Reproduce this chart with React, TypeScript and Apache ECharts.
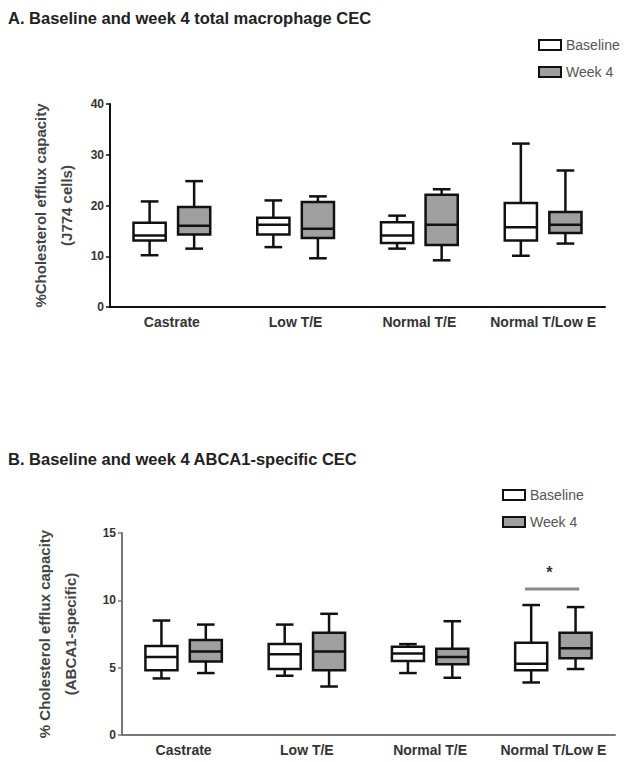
import React, { useEffect, useRef } from "react";
import * as echarts from "echarts";

const categories = ["Castrate", "Low T/E", "Normal T/E", "Normal T/Low E"];
const seriesNames = ["Baseline", "Week 4"];

// five-number summaries [min, Q1, median, Q3, max]
const totalBaseline = [
  [10.2, 13.1, 14.1, 16.6, 20.8],
  [11.8, 14.3, 16.2, 17.6, 21.0],
  [11.5, 12.6, 14.1, 16.7, 18.0],
  [10.1, 13.1, 15.7, 20.5, 32.2],
];
const totalWeek4 = [
  [11.5, 14.3, 16.0, 19.7, 24.8],
  [9.6, 13.6, 15.4, 20.7, 21.8],
  [9.2, 12.2, 16.2, 22.1, 23.2],
  [12.5, 14.6, 16.2, 18.7, 26.9],
];
const abcaBaseline = [
  [4.2, 4.8, 5.8, 6.6, 8.5],
  [4.4, 4.9, 6.0, 6.75, 8.2],
  [4.6, 5.5, 6.05, 6.55, 6.75],
  [3.9, 4.8, 5.3, 6.85, 9.65],
];
const abcaWeek4 = [
  [4.6, 5.45, 6.2, 7.05, 8.2],
  [3.6, 4.8, 6.2, 7.6, 9.0],
  [4.25, 5.25, 5.8, 6.4, 8.45],
  [4.9, 5.7, 6.45, 7.6, 9.5],
];
const totalTicks = { min: 0, max: 40, interval: 10 };
const abcaTicks = { min: 0, max: 15, interval: 5 };
// significance bracket in panel B
const sigCategoryIndex = 3;
const sigLevel = 10.85;
const sigStarLevel = 12.1;

const FONT = "'Liberation Sans', Arial, Helvetica, sans-serif";

function toData(rows: number[][]) {
  return rows.map((r, i) => [i, ...r]);
}

function boxRender(offsetFrac: number, fill: string) {
  return (params: any, api: any) => {
    const cat = api.value(0);
    const band = api.size([1, 0])[0];
    const cx = api.coord([cat, 0])[0] + offsetFrac * band;
    const w = band * 0.26;
    const cap = w * 0.55;
    const y = (k: number) => api.coord([cat, api.value(k)])[1];
    const yMin = y(1), yQ1 = y(2), yMed = y(3), yQ3 = y(4), yMax = y(5);
    const ls = { stroke: "#111", lineWidth: 2.5 };
    return {
      type: "group",
      children: [
        { type: "line", shape: { x1: cx, y1: yMax, x2: cx, y2: yQ3 }, style: ls },
        { type: "line", shape: { x1: cx, y1: yQ1, x2: cx, y2: yMin }, style: ls },
        { type: "line", shape: { x1: cx - cap / 2, y1: yMax, x2: cx + cap / 2, y2: yMax }, style: ls },
        { type: "line", shape: { x1: cx - cap / 2, y1: yMin, x2: cx + cap / 2, y2: yMin }, style: ls },
        {
          type: "rect",
          shape: { x: cx - w / 2, y: yQ3, width: w, height: yQ1 - yQ3 },
          style: { fill, stroke: "#111", lineWidth: 2.5 },
        },
        { type: "line", shape: { x1: cx - w / 2, y1: yMed, x2: cx + w / 2, y2: yMed }, style: ls },
      ],
    };
  };
}

const BASE_FILL = "#ffffff";
const WEEK_FILL = "#9f9f9f";

function boxSeries(name: string, rows: number[][], idx: number, offset: number, fill: string) {
  return {
    type: "custom",
    name,
    xAxisIndex: idx,
    yAxisIndex: idx,
    data: toData(rows),
    encode: { x: 0, y: [1, 2, 3, 4, 5] },
    itemStyle: { color: fill, borderColor: "#111", borderWidth: 2 },
    renderItem: boxRender(offset, fill),
    silent: true,
  };
}

function makeXAxis(gridIndex: number, lineColor: string) {
  return {
    type: "category",
    gridIndex,
    data: categories,
    boundaryGap: true,
    axisLine: { lineStyle: { color: lineColor, width: 2 } },
    axisTick: { alignWithLabel: true, length: 4, interval: 0, lineStyle: { color: lineColor, width: 1.5 } },
    axisLabel: {
      color: "#333",
      fontSize: 14,
      fontWeight: "bold",
      fontFamily: FONT,
      margin: 8,
      interval: 0,
      hideOverlap: false,
    },
    splitLine: { show: false },
  };
}

function makeYAxis(gridIndex: number, ticks: any, name: string, nameGap: number, lineColor: string) {
  return {
    type: "value",
    gridIndex,
    min: ticks.min,
    max: ticks.max,
    interval: ticks.interval,
    name,
    nameLocation: "middle",
    nameRotate: 90,
    nameGap,
    nameTextStyle: { color: "#444", fontSize: 15, fontWeight: "bold", fontFamily: FONT, lineHeight: 26 },
    axisLine: { show: true, lineStyle: { color: lineColor, width: 2 } },
    axisTick: { show: true, length: 4, lineStyle: { color: lineColor, width: 1.5 } },
    axisLabel: { color: "#333", fontSize: 12, fontWeight: "bold", fontFamily: FONT, margin: 6 },
    splitLine: { show: false },
  };
}

const legendData = [
  { name: seriesNames[0], itemStyle: { color: BASE_FILL, borderColor: "#111", borderWidth: 2 } },
  { name: seriesNames[1], itemStyle: { color: WEEK_FILL, borderColor: "#111", borderWidth: 2 } },
];

function makeLegend(left: number, top: number) {
  return {
    orient: "vertical",
    left,
    top,
    padding: 0,
    itemWidth: 22,
    itemHeight: 10,
    itemGap: 13,
    icon: "rect",
    selectedMode: false,
    data: legendData,
    textStyle: { color: "#555", fontSize: 14, fontFamily: FONT },
  };
}

export default function App() {
  const ref = useRef<HTMLDivElement>(null);
  useEffect(() => {
    if (!ref.current) return;
    const chart = echarts.init(ref.current, null, { renderer: "svg" });
    const option: any = {
      animation: false,
      backgroundColor: "#ffffff",
      title: [
        {
          text: "A. Baseline and week 4 total macrophage CEC",
          left: 8,
          top: 9,
          padding: 0,
          textStyle: { fontSize: 16.5, fontWeight: "bold", color: "#222", fontFamily: FONT },
        },
        {
          text: "B. Baseline and week 4 ABCA1-specific CEC",
          left: 8,
          top: 450,
          padding: 0,
          textStyle: { fontSize: 16.5, fontWeight: "bold", color: "#222", fontFamily: FONT },
        },
      ],
      legend: [makeLegend(538, 38), makeLegend(502, 488)],
      grid: [
        { left: 110, right: 32, top: 104, bottom: 455 },
        { left: 122, right: 22, top: 533, bottom: 27 },
      ],
      xAxis: [makeXAxis(0, "#111"), makeXAxis(1, "#777")],
      yAxis: [
        makeYAxis(0, totalTicks, "%Cholesterol efflux capacity\n(J774 cells)", 27, "#111"),
        makeYAxis(1, abcaTicks, "% Cholesterol efflux capacity\n(ABCA1-specific)", 39, "#777"),
      ],
      series: [
        boxSeries(seriesNames[0], totalBaseline, 0, -0.18, BASE_FILL),
        boxSeries(seriesNames[1], totalWeek4, 0, 0.18, WEEK_FILL),
        boxSeries(seriesNames[0], abcaBaseline, 1, -0.18, BASE_FILL),
        boxSeries(seriesNames[1], abcaWeek4, 1, 0.18, WEEK_FILL),
        {
          type: "custom",
          name: "significance",
          xAxisIndex: 1,
          yAxisIndex: 1,
          data: [[sigCategoryIndex, sigLevel, sigStarLevel]],
          encode: { x: 0, y: [1, 2] },
          silent: true,
          renderItem: (params: any, api: any) => {
            const cat = api.value(0);
            const band = api.size([1, 0])[0];
            const c = api.coord([cat, api.value(1)]);
            const s = api.coord([cat, api.value(2)]);
            return {
              type: "group",
              children: [
                {
                  type: "line",
                  shape: { x1: c[0] - band * 0.23, y1: c[1], x2: c[0] + band * 0.21, y2: c[1] },
                  style: { stroke: "#888", lineWidth: 3 },
                },
                {
                  type: "text",
                  x: c[0] - 4,
                  y: s[1],
                  style: {
                    text: "*",
                    fill: "#333",
                    fontSize: 16,
                    fontWeight: "bold",
                    fontFamily: FONT,
                    align: "center",
                    verticalAlign: "middle",
                  },
                },
              ],
            };
          },
        },
      ],
    };
    chart.setOption(option);
    return () => chart.dispose();
  }, []);
  return (
    <div
      ref={ref}
      style={{ position: "absolute", left: 0, top: 0, width: 637, height: 762, background: "#fff" }}
    />
  );
}
